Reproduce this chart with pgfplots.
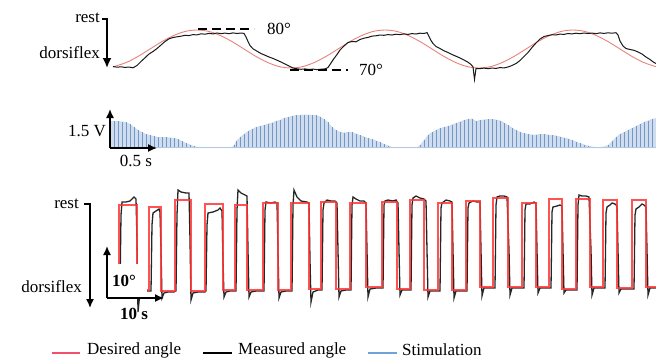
\documentclass[border=0pt]{standalone}
\usepackage{pgfplots}
\usepackage{pgfplotstable}
\pgfplotsset{compat=1.18}
\usepackage{fontspec}
\setmainfont{Liberation Serif}
\usetikzlibrary{arrows.meta}
\definecolor{desred}{HTML}{E8827B}
\definecolor{sqred}{HTML}{FF3535}
\definecolor{legred}{HTML}{F0506A}
\definecolor{stimfill}{HTML}{D0DDEE}
\definecolor{stimline}{HTML}{7398C8}
\definecolor{legblue}{HTML}{6FA2D6}

% stimulation envelope: x (px along time), h = amplitude (px above baseline)
\pgfplotstableread{
x h
110 27
114 27
118 27
122 26.5
126 26
130 24
134 21
138 18
142 16
146 14
150 13
154 12
158 11
162 11
166 11
170 10.5
174 10
178 9
182 7
186 5
190 3.5
194 2
198 1
202 0
206 0
210 0
214 0
218 0
222 0
226 0
230 0
232 1
234 3
236 7
240 11
244 14
248 17
252 19
256 21
260 22
264 23
268 24.5
272 25.5
276 27
280 28
284 30
288 31
292 32
296 33
300 33
304 33.5
308 33.5
312 33
316 33
320 31.5
324 29
328 26
332 21
336 18
340 16
344 15.5
348 16
352 16
356 14.5
360 13
364 11.5
368 10
372 9
376 7.5
380 6
384 4
388 2.5
392 1
396 0
400 0
404 0
408 0
412 0
416 0
418 1.5
420 3
424 8
428 13
432 16
436 18
440 20
444 21
448 22
452 23.5
456 25
460 26.5
464 28
468 29
472 29.5
476 27
480 28
484 28.5
488 29
492 29
496 28.5
500 27.5
504 25.5
508 23
512 20.5
516 18
520 16
524 15
528 14
532 13.5
536 13.5
540 14
544 14
548 13.5
552 13
556 12.5
560 11.5
564 10.5
568 9.5
572 8
576 6.5
580 5
584 3.5
588 2.5
592 1.5
596 1
600 1
604 1.5
608 3
612 7
616 11
620 14
624 16
628 18
632 20
636 22
640 24
644 26
648 27.5
652 29
656 30
}\stimdata

\begin{document}
\begin{tikzpicture}[font=\fontsize{17}{20}\selectfont]
\path[use as bounding box] (0pt,0pt) rectangle (656pt,-362pt);

% ---------------- stimulation panel ----------------
\begin{axis}[at={(0pt,-148pt)}, anchor=south west, scale only axis,
  width=656pt, height=48pt, xmin=0, xmax=656, ymin=0, ymax=48,
  hide axis, clip=false]
\addplot[fill=stimfill, draw=none] table[x=x, y=h] {\stimdata} \closedcycle;
\addplot[ycomb, stimline, line width=0.7pt] table[x=x, y=h] {\stimdata};
\addplot[stimfill!70!stimline, line width=0.6pt] coordinates {(110,0.3) (656,0.3)};
\end{axis}

% ---------------- angle panels (pixel frame) ----------------
\begin{axis}[at={(0pt,0pt)}, anchor=north west, scale only axis,
  width=656pt, height=362pt, xmin=0, xmax=656, ymin=0, ymax=362,
  y dir=reverse, hide axis, clip=false]

% top: desired angle (sinusoid)
\addplot[desred, line width=0.9pt, smooth] coordinates {
(113,66.9)(126.5,62.4)(138.25,56.3)(150,49)(161.75,41.7)(173.5,35.6)(185.25,31.4)
(197,30)(208.75,31.4)(220.5,35.6)(232.25,41.7)(244,49)(255.75,56.3)(267.5,62.4)
(279.25,66.6)(291,68)(302.75,66.6)(314.5,62.4)(326.25,56.3)(338,49)(349.75,41.7)
(361.5,35.6)(373.25,31.4)(385,30)(396.75,31.4)(408.5,35.6)(420.25,41.7)(432,49)
(443.75,56.3)(455.5,62.4)(467.25,66.6)(479,68)(490.75,66.6)(502.5,62.4)(514.25,56.3)
(526,49)(537.75,41.7)(549.5,35.6)(561.25,31.4)(573,30)(584.75,31.4)(596.5,35.6)
(608.25,41.7)(620,49)(631.75,56.3)(643.5,62.4)(656,66.7)};

% top: measured angle
\addplot[black!90, line width=1pt] coordinates {
(113,66.5)(117,67.2)(121,66.8)(125,67.4)(129,67.0)(133,67.8)(137,65.5)(141,61.5)
(145,57.8)(149,54.0)(153,51.5)(157,48.5)(161,45.0)(165,41.5)(169,38.8)(173,37.5)
(177,36.8)(181,36.2)(185,35.3)(189,35.6)(193,34.6)(197,34.9)(201,33.8)(205,34.2)
(209,33.4)(213,33.9)(217,33.0)(221,33.6)(225,33.1)(229,33.7)(233,32.9)(237,33.5)
(241,33.0)(244,33.4)(246,37.0)(248,41.5)(250,45.5)(253,48.8)(257,51.2)(261,53.5)
(265,55.2)(269,57.0)(273,58.4)(277,60.2)(281,62.0)(285,64.0)(289,66.0)(293,68.0)
(297,68.8)(301,69.3)(305,68.9)(309,69.5)(313,69.1)(317,69.6)(321,69.2)(325,68.9)
(328,67.5)(331,63.0)(334,58.5)(337,54.5)(340,50.0)(344,46.0)(348,42.5)(352,41.5)
(356,41.8)(360,39.5)(364,38.2)(368,37.4)(372,36.1)(376,35.8)(380,35.0)(384,35.3)
(388,34.6)(392,35.0)(396,34.2)(400,34.6)(404,33.9)(408,34.4)(412,33.6)(416,34.0)
(420,33.2)(424,33.5)(427,32.6)(429,36.5)(431,40.5)(433,43.5)(436,46.5)(440,48.5)
(444,50.8)(448,52.5)(452,54.5)(456,56.2)(460,58.0)(464,60.0)(468,62.2)(471,64.5)
(473,66.8)(474.5,79.5)(476,68.5)(480,68.6)(484,68.1)(488,68.7)(492,68.0)(496,68.4)
(500,67.6)(504,67.9)(508,67.0)(512,65.5)(516,63.5)(520,60.5)(524,56.5)(528,52.5)
(532,47.5)(536,43.0)(540,39.0)(544,36.5)(548,35.6)(552,34.7)(556,35.0)(560,34.1)
(564,34.4)(568,33.5)(572,33.9)(576,33.2)(580,33.7)(584,33.0)(588,33.5)(592,33.1)
(596,33.6)(600,32.9)(604,33.4)(608,32.8)(612,33.2)(616,32.7)(618,35.0)(620,41.0)
(623,46.0)(626,48.5)(630,49.5)(634,50.3)(638,52.0)(642,54.0)(646,57.0)(650,59.5)
(653,61.8)(656,63.5)};

% bottom: measured angle
\addplot[black!85, line width=1.3pt] coordinates {
(120,289)(121,215)(122,202)(126,202)(130,201)(134,197)(136,199)(137,240)(138,312)(140,292)(144,291)(148,291)
(151,291)(152,225)(153,213)(156,211)(159,209)(160,212)(161,250)(162,298)(164,293)(168,292)(174,292)
(176,291)(177,215)(178,190)(181,192)(186,193)(189,193)(190,240)(191,300)(193,293)(198,292)(205,292)
(206,291)(207,225)(208,213)(213,212)(218,210)(220,208)(222,211)(223,260)(224,297)(226,292)(230,291)(235,291)
(236,291)(237,210)(238,190)(241,193)(245,195)(247,196)(248,250)(249,297)(251,292)(256,291)(263,291)
(264,291)(265,210)(266,202)(271,203)(275,202)(277,203)(278,250)(279,298)(281,292)(286,291)(291,291)
(292,291)(293,205)(294,190)(297,197)(301,201)(307,202)(309,203)(310,260)(311,302)(313,292)(318,290)(321,290)
(322,290)(323,210)(324,203)(327,200)(331,201)(335,201)(337,203)(338,250)(339,297)(341,291)(346,290)(350,290)
(351,290)(352,205)(353,197)(356,199)(360,201)(364,201)(366,203)(367,250)(368,297)(370,289)(376,288)(382,288)
(383,288)(384,205)(385,201)(388,200)(393,201)(396,200)(398,203)(399,250)(400,295)(402,290)(406,290)(410,290)
(411,290)(412,205)(413,198)(416,196)(420,198)(424,199)(426,201)(427,250)(428,297)(430,291)(435,291)(439,291)
(440,291)(441,208)(442,203)(446,200)(450,201)(452,202)(453,250)(454,298)(456,291)(461,291)(466,291)
(467,291)(468,208)(469,203)(473,201)(477,202)(480,202)(481,250)(482,296)(484,288)(489,288)(494,288)
(495,288)(496,205)(497,197)(500,196)(504,196)(507,197)(509,250)(510,295)(512,288)(517,288)(523,288)
(524,288)(525,210)(526,204)(530,204)(534,202)(536,203)(537,250)(538,293)(540,288)(545,288)(550,288)
(551,288)(552,212)(553,207)(557,206)(560,205)(562,206)(563,250)(564,293)(566,290)(571,290)(576,290)
(577,290)(578,205)(579,195)(582,196)(586,196)(589,197)(591,250)(592,295)(594,288)(599,288)(604,288)
(605,288)(606,213)(607,207)(610,205)(612,203)(615,204)(617,206)(618,250)(619,293)(621,289)(626,289)(633,289)
(634,289)(635,215)(636,209)(639,207)(642,204)(644,205)(646,207)(647,250)(648,295)(650,288)(656,288)};

% bottom: desired angle (square wave)
\addplot[sqred, line width=1.6pt, opacity=0.85] coordinates {
(119,290)(119,205)(137,205)(137,290)(149,290)(149,207)(161,207)(161,291)(175,291)(175,200)
(191,200)(191,291)(205,291)(205,204)(223,204)(223,290)(235,290)(235,205)(247,205)(247,290)
(263,290)(263,203)(278,203)(278,290)(291,290)(291,203)(309,203)(309,289)(321,289)(321,202)
(336,202)(336,289)(350,289)(350,203)(366,203)(366,287)(382,287)(382,202)(397,202)(397,289)
(410,289)(410,200)(424,200)(424,290)(438,290)(438,203)(452,203)(452,290)(466,290)(466,201)
(480,201)(480,287)(493,287)(493,198)(508,198)(508,287)(522,287)(522,203)(536,203)(536,287)
(549,287)(549,199)(562,199)(562,289)(576,289)(576,199)(590,199)(590,287)(603,287)(603,200)
(617,200)(617,288)(632,288)(632,200)(646,200)(646,287)(656,287)};

% ---- legend (drawn as keys beside their labels)
\draw[legred, line width=2pt] (axis cs:52,353) -- (axis cs:80,353);
\node[anchor=west, inner sep=0pt] at (axis cs:87,350) {Desired angle};
\draw[black, line width=2pt] (axis cs:203,353) -- (axis cs:232,353);
\node[anchor=west, inner sep=0pt] at (axis cs:238,350) {Measured angle};
\draw[legblue, line width=2pt] (axis cs:368,353) -- (axis cs:397,353);
\node[anchor=west, inner sep=0pt] at (axis cs:402,350) {Stimulation};

% ---- annotations: top panel
\node[anchor=east, inner sep=1pt] at (axis cs:101,18) {rest};
\draw[line width=1.8pt] (axis cs:102,19) -- (axis cs:108,19);
\draw[line width=1.8pt, -{Latex[length=10pt,width=9pt]}] (axis cs:107,19) -- (axis cs:107,68);
\node[anchor=east, inner sep=1pt] at (axis cs:101,53) {dorsiflex};
\draw[line width=1.6pt, dash pattern=on 9pt off 5pt] (axis cs:198,29) -- (axis cs:254,29);
\node[anchor=west, inner sep=1pt] at (axis cs:266,29) {80°};
\draw[line width=1.6pt, dash pattern=on 9pt off 5pt] (axis cs:290,70) -- (axis cs:348,70);
\node[anchor=west, inner sep=1pt] at (axis cs:358,70) {70°};

% ---- annotations: stimulation panel
\draw[line width=1.5pt, -{Latex[length=9pt,width=8pt]}] (axis cs:110,148) -- (axis cs:110,109);
\draw[line width=1.5pt, -{Latex[length=9pt,width=8pt]}] (axis cs:110,148) -- (axis cs:157,148);
\node[anchor=east, inner sep=1pt] at (axis cs:107,131) {1.5 V};
\node[inner sep=1pt] at (axis cs:136,161) {0.5 s};

% ---- annotations: bottom panel
\node[anchor=east, inner sep=1pt] at (axis cs:80,204) {rest};
\draw[line width=1.5pt] (axis cs:84,204) -- (axis cs:91,204);
\draw[line width=1.5pt, -{Latex[length=9pt,width=8pt]}] (axis cs:90,204) -- (axis cs:90,308);
\node[anchor=east, inner sep=1pt] at (axis cs:83,287) {dorsiflex};
\fill[white] (axis cs:109,264) rectangle (axis cs:147,297);
\node[inner sep=1pt, font=\fontsize{17}{20}\selectfont\bfseries] at (axis cs:124,281) {10°};
\draw[line width=1.5pt, -{Latex[length=9pt,width=8pt]}] (axis cs:107,298) -- (axis cs:107,246);
\draw[line width=1.5pt, -{Latex[length=9pt,width=8pt]}] (axis cs:107,298) -- (axis cs:164,298);
\node[inner sep=1pt, font=\fontsize{17}{20}\selectfont\bfseries] at (axis cs:134,314) {10 s};
\end{axis}
\end{tikzpicture}
\end{document}
